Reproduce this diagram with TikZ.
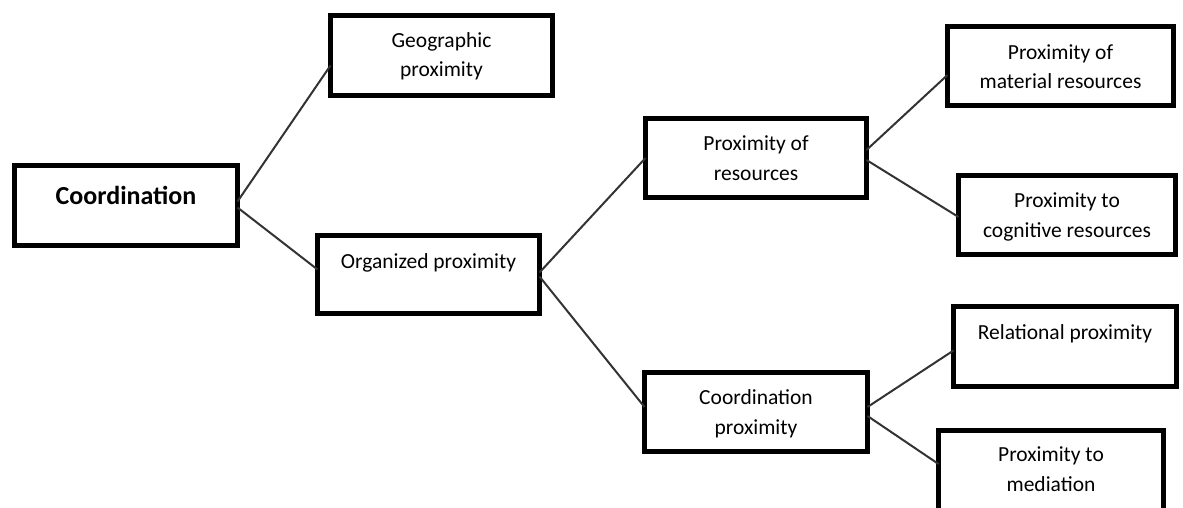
\documentclass[tikz,border=0pt]{standalone}
\usepackage{fontspec}
\setmainfont{Carlito}
\usetikzlibrary{calc,shadows}
\tikzset{
  box/.style={draw=black, fill=white, line width=5pt, inner sep=0pt, outer sep=0pt,
    drop shadow={shadow xshift=1.5pt, shadow yshift=-2pt, fill=black!25, opacity=0.8}},
  lbl/.style={align=center, anchor=base, inner sep=0pt, font=\fontsize{21.5}{29.5}\selectfont},
  conn/.style={draw=black!80, line width=2pt}
}
\begin{document}
\begin{tikzpicture}[x=1pt, y=-1pt]
\useasboundingbox (0,0) rectangle (1183,508);
\clip (0,0) rectangle (1183,508);
% boxes
\node[box, minimum width=223pt, minimum height=80pt] (coord) at (126,205.5) {};
\node[box, minimum width=222pt, minimum height=80pt] (geo) at (441.5,55.5) {};
\node[box, minimum width=222pt, minimum height=78pt] (org) at (428.5,274.5) {};
\node[box, minimum width=221pt, minimum height=79pt] (res) at (756,158) {};
\node[box, minimum width=223pt, minimum height=79pt] (cp) at (756,412) {};
\node[box, minimum width=226pt, minimum height=79pt] (mat) at (1060.5,66) {};
\node[box, minimum width=217pt, minimum height=79pt] (cog) at (1067,215) {};
\node[box, minimum width=223pt, minimum height=80pt] (rel) at (1065,346.5) {};
\node[box, minimum width=225pt, minimum height=80pt] (med) at (1051,470) {};
% texts (base anchor = baseline of the last line)
\node[lbl, font=\bfseries\fontsize{26}{30}\selectfont] (coordT) at (126,204) {Coordination};
\node[lbl] (geoT) at (441.5,77) {Geographic\\proximity};
\node[lbl] (orgT) at (428.5,268) {Organized proximity};
\node[lbl] (resT) at (756,180) {Proximity of\\resources};
\node[lbl] (cpT) at (756,434) {Coordination\\proximity};
\node[lbl] (matT) at (1060.5,89) {Proximity of\\material resources};
\node[lbl] (cogT) at (1067,237) {Proximity to\\cognitive resources};
\node[lbl] (relT) at (1065,339) {Relational proximity};
\node[lbl] (medT) at (1051,491) {Proximity to\\mediation};
% connectors
\draw[conn] ($(coord.east)+(0,-4)$) -- ($(geo.west)+(0,10)$);
\draw[conn] ($(coord.east)+(0,2)$) -- ($(org.west)+(0,-5)$);
\draw[conn] ($(org.east)+(0,-2)$) -- (res.west);
\draw[conn] ($(org.east)+(0,2)$) -- ($(cp.west)+(0,-5)$);
\draw[conn] ($(res.east)+(0,-8)$) -- ($(mat.west)+(0,9)$);
\draw[conn] ($(res.east)+(0,2)$) -- ($(cog.west)+(0,2)$);
\draw[conn] ($(cp.east)+(0,-5)$) -- ($(rel.west)+(0,4)$);
\draw[conn] ($(cp.east)+(0,4)$) -- ($(med.west)+(0,-6)$);
\end{tikzpicture}
\end{document}
